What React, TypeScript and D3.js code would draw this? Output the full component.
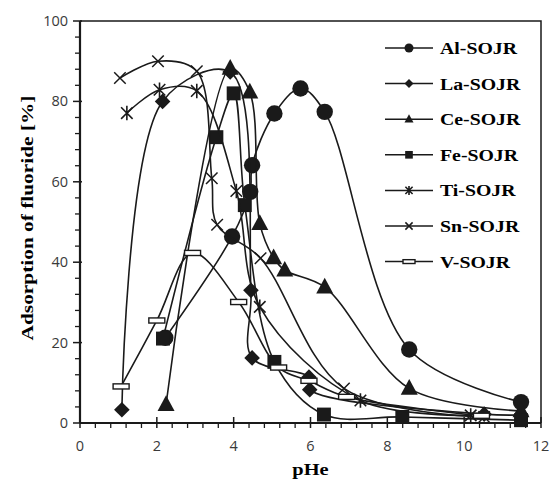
import React, { useEffect, useRef } from 'react';
import * as d3 from 'd3';

// values
const seriesNames = ['Al-SOJR', 'La-SOJR', 'Ce-SOJR', 'Fe-SOJR', 'Ti-SOJR', 'Sn-SOJR', 'V-SOJR'];
const markerKinds = ['circle', 'diamond', 'triangle', 'square', 'asterisk', 'cross', 'bar'];

const alPH = [2.22, 3.96, 4.43, 4.48, 5.06, 5.74, 6.37, 8.57, 11.48];
const alVal = [21.2, 46.4, 57.5, 64.1, 77.0, 83.2, 77.4, 18.3, 5.2];

const laPH = [1.09, 2.15, 3.91, 4.45, 4.48, 5.96, 5.98, 10.52, 11.48];
const laVal = [3.3, 80.0, 87.3, 33.0, 16.2, 11.4, 8.3, 2.2, 2.0];

const cePH = [2.24, 3.91, 4.42, 4.68, 5.04, 5.33, 6.37, 8.57, 11.48];
const ceVal = [4.6, 88.2, 82.3, 49.6, 41.1, 38.0, 33.8, 8.6, 3.0];

const fePH = [2.16, 3.55, 4.0, 4.29, 5.06, 6.35, 8.39, 11.48];
const feVal = [21.0, 71.1, 82.0, 54.2, 15.2, 2.1, 1.5, 0.7];

const tiPH = [1.22, 2.07, 3.04, 4.07, 4.68, 7.3, 10.17];
const tiVal = [77.1, 82.9, 82.6, 57.7, 28.9, 5.6, 1.9];

const snPH = [1.04, 2.03, 3.04, 3.43, 3.57, 4.7, 6.87, 10.52];
const snVal = [85.8, 90.0, 87.5, 60.9, 49.3, 41.0, 8.6, 1.5];

const vPH = [1.07, 2.0, 2.93, 4.13, 5.17, 5.96, 6.94, 10.45];
const vVal = [9.1, 25.5, 42.3, 30.1, 13.8, 10.5, 6.5, 1.8];

const xTicks = [0, 2, 4, 6, 8, 10, 12];
const yTicks = [0, 20, 40, 60, 80, 100];

const allPH = [alPH, laPH, cePH, fePH, tiPH, snPH, vPH];
const allVal = [alVal, laVal, ceVal, feVal, tiVal, snVal, vVal];

function drawMarker(g: any, kind: string, s: number) {
  if (kind === 'circle') {
    g.append('circle').attr('r', s).attr('fill', '#1a1a1a');
  } else if (kind === 'diamond') {
    g.append('path').attr('d', `M0,${-s}L${s},0L0,${s}L${-s},0Z`).attr('fill', '#1a1a1a');
  } else if (kind === 'triangle') {
    g.append('path').attr('d', `M0,${-s * 1.1}L${s},${s * 0.75}L${-s},${s * 0.75}Z`).attr('fill', '#1a1a1a');
  } else if (kind === 'square') {
    g.append('rect').attr('x', -s * 0.85).attr('y', -s * 0.85).attr('width', s * 1.7).attr('height', s * 1.7).attr('fill', '#1a1a1a');
  } else if (kind === 'asterisk') {
    const a = s * 0.8;
    g.append('path')
      .attr('d', `M${-a},${-a}L${a},${a}M${-a},${a}L${a},${-a}M0,${-s}L0,${s}`)
      .attr('stroke', '#1a1a1a').attr('stroke-width', 1.6);
  } else if (kind === 'cross') {
    const a = s * 0.8;
    g.append('path')
      .attr('d', `M${-a},${-a}L${a},${a}M${-a},${a}L${a},${-a}`)
      .attr('stroke', '#1a1a1a').attr('stroke-width', 1.5);
  } else if (kind === 'bar') {
    g.append('rect').attr('x', -s).attr('y', -s * 0.32).attr('width', s * 2).attr('height', s * 0.64)
      .attr('fill', '#fff').attr('stroke', '#1a1a1a').attr('stroke-width', 1.4);
  }
}

export default function App() {
  const ref = useRef<SVGSVGElement>(null);

  useEffect(() => {
    const width = 553, height = 485;
    const margin = { top: 21, right: 12, bottom: 62, left: 80 };
    const innerW = width - margin.left - margin.right;
    const innerH = height - margin.top - margin.bottom;

    const svg = d3.select(ref.current);
    svg.selectAll('*').remove();

    const g = svg.append('g').attr('transform', `translate(${margin.left},${margin.top})`);

    const x = d3.scaleLinear().domain([0, 12]).range([0, innerW]);
    const y = d3.scaleLinear().domain([0, 100]).range([innerH, 0]);

    // frame (top and right)
    g.append('path')
      .attr('d', `M0,0H${innerW}V${innerH}`)
      .attr('fill', 'none').attr('stroke', '#1a1a1a').attr('stroke-width', 1.5);

    // minor ticks
    const xMinor = d3.range(0, 12.001, 0.4).filter(v => Math.abs(v / 2 - Math.round(v / 2)) > 0.01);
    g.selectAll('.xminor').data(xMinor).enter().append('line')
      .attr('x1', d => x(d)).attr('x2', d => x(d)).attr('y1', innerH).attr('y2', innerH + 5)
      .attr('stroke', '#1a1a1a').attr('stroke-width', 1.3);
    const yMinor = d3.range(0, 100.001, 4).filter(v => v % 20 !== 0);
    g.selectAll('.yminor').data(yMinor).enter().append('line')
      .attr('x1', -5).attr('x2', 0).attr('y1', d => y(d)).attr('y2', d => y(d))
      .attr('stroke', '#1a1a1a').attr('stroke-width', 1.3);

    // major ticks
    g.selectAll('.xmajor').data(xTicks).enter().append('line')
      .attr('x1', d => x(d)).attr('x2', d => x(d)).attr('y1', innerH - 6).attr('y2', innerH + 5)
      .attr('stroke', '#1a1a1a').attr('stroke-width', 1.5);
    g.selectAll('.ymajor').data(yTicks).enter().append('line')
      .attr('x1', -7).attr('x2', 2).attr('y1', d => y(d)).attr('y2', d => y(d))
      .attr('stroke', '#1a1a1a').attr('stroke-width', 1.5);

    // axis lines
    g.append('line').attr('x1', 0).attr('x2', innerW).attr('y1', innerH).attr('y2', innerH)
      .attr('stroke', '#1a1a1a').attr('stroke-width', 2.2);
    g.append('line').attr('x1', 0).attr('x2', 0).attr('y1', 0).attr('y2', innerH)
      .attr('stroke', '#1a1a1a').attr('stroke-width', 2.2);

    // tick labels
    g.selectAll('.xlab').data(xTicks).enter().append('text')
      .attr('x', d => x(d)).attr('y', innerH + 28)
      .attr('text-anchor', 'middle')
      .style('font-family', 'Open Sans, sans-serif').style('font-size', '14.5px').attr('fill', '#3a3a3a')
      .text(d => d);
    g.selectAll('.ylab').data(yTicks).enter().append('text')
      .attr('x', -12).attr('y', d => y(d) + 5)
      .attr('text-anchor', 'end')
      .style('font-family', 'Open Sans, sans-serif').style('font-size', '14.5px').attr('fill', '#3a3a3a')
      .text(d => d);

    // axis titles
    svg.append('text')
      .attr('transform', `translate(${margin.left + innerW / 2},${475}) scale(1.2,1)`)
      .attr('text-anchor', 'middle')
      .style('font-family', 'Liberation Serif, Times New Roman, serif')
      .style('font-size', '17px').style('font-weight', 'bold')
      .text('pHe');
    svg.append('text')
      .attr('transform', `translate(33,218) rotate(-90) scale(1.22,1)`)
      .attr('text-anchor', 'middle')
      .style('font-family', 'Liberation Serif, Times New Roman, serif')
      .style('font-size', '17.5px').style('font-weight', 'bold')
      .text('Adsorption of fluoride [%]');

    // series
    const line = d3.line<[number, number]>()
      .x(d => x(d[0])).y(d => y(d[1]))
      .curve(d3.curveCatmullRom.alpha(0.5));

    seriesNames.forEach((name, i) => {
      const pts: [number, number][] = allPH[i].map((p, j) => [p, allVal[i][j]]);
      g.append('path').datum(pts).attr('d', line)
        .attr('fill', 'none').attr('stroke', '#1a1a1a').attr('stroke-width', 1.6);
      const kind = markerKinds[i];
      const size = kind === 'circle' ? 8.2 : kind === 'bar' ? 8 : kind === 'diamond' ? 7.8 : kind === 'triangle' ? 8.5 : kind === 'square' ? 8.2 : 7.2;
      pts.forEach(p => {
        const mg = g.append('g').attr('transform', `translate(${x(p[0])},${y(p[1])})`);
        drawMarker(mg, kind, size);
      });
    });

    // legend
    const leg = svg.append('g');
    seriesNames.forEach((name, i) => {
      const ly = 48 + i * 35.6;
      leg.append('line').attr('x1', 385).attr('x2', 433).attr('y1', ly).attr('y2', ly)
        .attr('stroke', '#1a1a1a').attr('stroke-width', 1.5);
      const mg = leg.append('g').attr('transform', `translate(409,${ly})`);
      drawMarker(mg, markerKinds[i], markerKinds[i] === 'bar' ? 6 : 4.5);
      leg.append('text')
        .attr('transform', `translate(440,${ly + 6}) scale(1.2,1)`)
        .style('font-family', 'Liberation Serif, Times New Roman, serif')
        .style('font-size', '16.5px').style('font-weight', 'bold')
        .text(name);
    });
  }, []);

  return (
    <svg ref={ref} width={553} height={485}
      style={{ position: 'absolute', left: 0, top: 0, background: '#fff' }} />
  );
}
